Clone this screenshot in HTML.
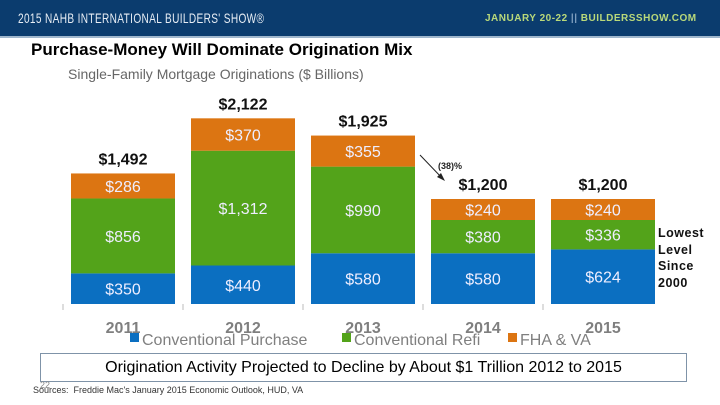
<!DOCTYPE html>
<html><head><meta charset="utf-8"><style>
body{margin:0;width:720px;height:405px;overflow:hidden;background:#fff;font-family:"Liberation Sans",sans-serif;position:relative}
.a{position:absolute;white-space:nowrap}
</style></head><body>
<div class="a" style="left:0;top:0;width:720px;height:36px;background:#0b3c6e;border-bottom:2px solid #9fb6cc"></div>
<div class="a" style="left:18px;top:10px;color:#e8eef5;font-size:14px;transform:scaleX(0.72);transform-origin:left;letter-spacing:0.5px">2015 NAHB INTERNATIONAL BUILDERS' SHOW®</div>
<div class="a" style="left:485px;top:13px;color:#b9d97a;font-size:10px;font-weight:bold;letter-spacing:0.5px">JANUARY 20-22 <span style="color:#7f9fbf">||</span> BUILDERSSHOW.COM</div>
<div class="a" style="left:31px;top:40px;font-size:17px;font-weight:bold;color:#000">Purchase-Money Will Dominate Origination Mix</div>
<div class="a" style="left:68px;top:66px;font-size:14px;color:#666">Single-Family Mortgage Originations ($ Billions)</div>
<svg id="chart" class="a" style="left:0;top:0" width="720" height="405"></svg>
<div class="a" style="left:658px;top:225px;font-size:12.5px;line-height:16.5px;font-weight:bold;color:#111;letter-spacing:0.5px">Lowest<br>Level<br>Since<br>2000</div>
<div class="a" style="left:40px;top:353px;width:647px;height:29px;border:1px solid #7f93a8;box-sizing:border-box;text-align:center;font-size:16px;line-height:28px;color:#000">Origination Activity Projected to Decline by About $1 Trillion 2012 to 2015</div>
<div class="a" style="left:40px;top:380px;font-size:9px;color:#888">22</div>
<div class="a" style="left:33px;top:385px;font-size:9px;color:#333">Sources:&nbsp; Freddie Mac's January 2015 Economic Outlook, HUD, VA</div>
<script>
const years=["2011","2012","2013","2014","2015"];
const purchase=[350,440,580,580,624];
const refi=[856,1312,990,380,336];
const fha=[286,370,355,240,240];
const totals=["$1,492","$2,122","$1,925","$1,200","$1,200"];
const svg=document.getElementById('chart');
const NS='http://www.w3.org/2000/svg';
const base=304,k=0.0875,x0=71,step=120,bw=104;
function y(v){return base-v*k;}
function el(t,a){const e=document.createElementNS(NS,t);for(const n in a)e.setAttribute(n,a[n]);svg.appendChild(e);return e;}
const series=[[purchase,'#0b6fc1','purchase'],[refi,'#53a31a','refi'],[fha,'#dc7512','fha-va']];
years.forEach((yr,i)=>{
 let cum=0;const x=x0+i*step;
 series.forEach(([arr,col,nm])=>{
  const v=arr[i];
  const r=el('rect',{x:x,y:y(cum+v),width:bw,height:v*k,fill:col});
  
  
  const t=el('text',{x:x+bw/2,y:y(cum+v/2)+6,'text-anchor':'middle','font-size':16,fill:'#eef',"font-family":"Liberation Sans, sans-serif"});
  t.textContent='$'+v.toLocaleString('en-US');
  
  
  cum+=v;
 });
 const tt=el('text',{x:x+bw/2,y:y(cum)-9,'text-anchor':'middle','font-size':16,'font-weight':'bold',fill:'#111'});
 tt.textContent=totals[i];
 
 
 const yl=el('text',{x:x+bw/2,y:333,'text-anchor':'middle','font-size':16,'font-weight':'bold',fill:'#7f7f7f'});
 yl.textContent=yr;
 
 
 const tk=el('line',{x1:x-8,x2:x-8,y1:304,y2:310,stroke:'#bbb'});
 
 
});
const ar=el('line',{x1:420,y1:155,x2:443,y2:179,stroke:'#222','stroke-width':1});


const ah=el('polygon',{points:'445,181 437,177 441,173',fill:'#222'});


const pt=el('text',{x:438,y:169,'font-size':9,'font-weight':'bold',fill:'#222'});
pt.textContent='(38)%';


const leg=[['Conventional Purchase','#0b6fc1',130],['Conventional Refi','#53a31a',342],['FHA & VA','#dc7512',508]];
leg.forEach(([n,c,lx])=>{
 const g=el('g',{});
 
 
 const r=document.createElementNS(NS,'rect');r.setAttribute('x',lx);r.setAttribute('y',333);r.setAttribute('width',9);r.setAttribute('height',9);r.setAttribute('fill',c);g.appendChild(r);
 const t=document.createElementNS(NS,'text');t.setAttribute('x',lx+12);t.setAttribute('y',345);t.setAttribute('font-size',16);t.setAttribute('fill','#7f7f7f');t.textContent=n;g.appendChild(t);
});
</script>
</body></html>
